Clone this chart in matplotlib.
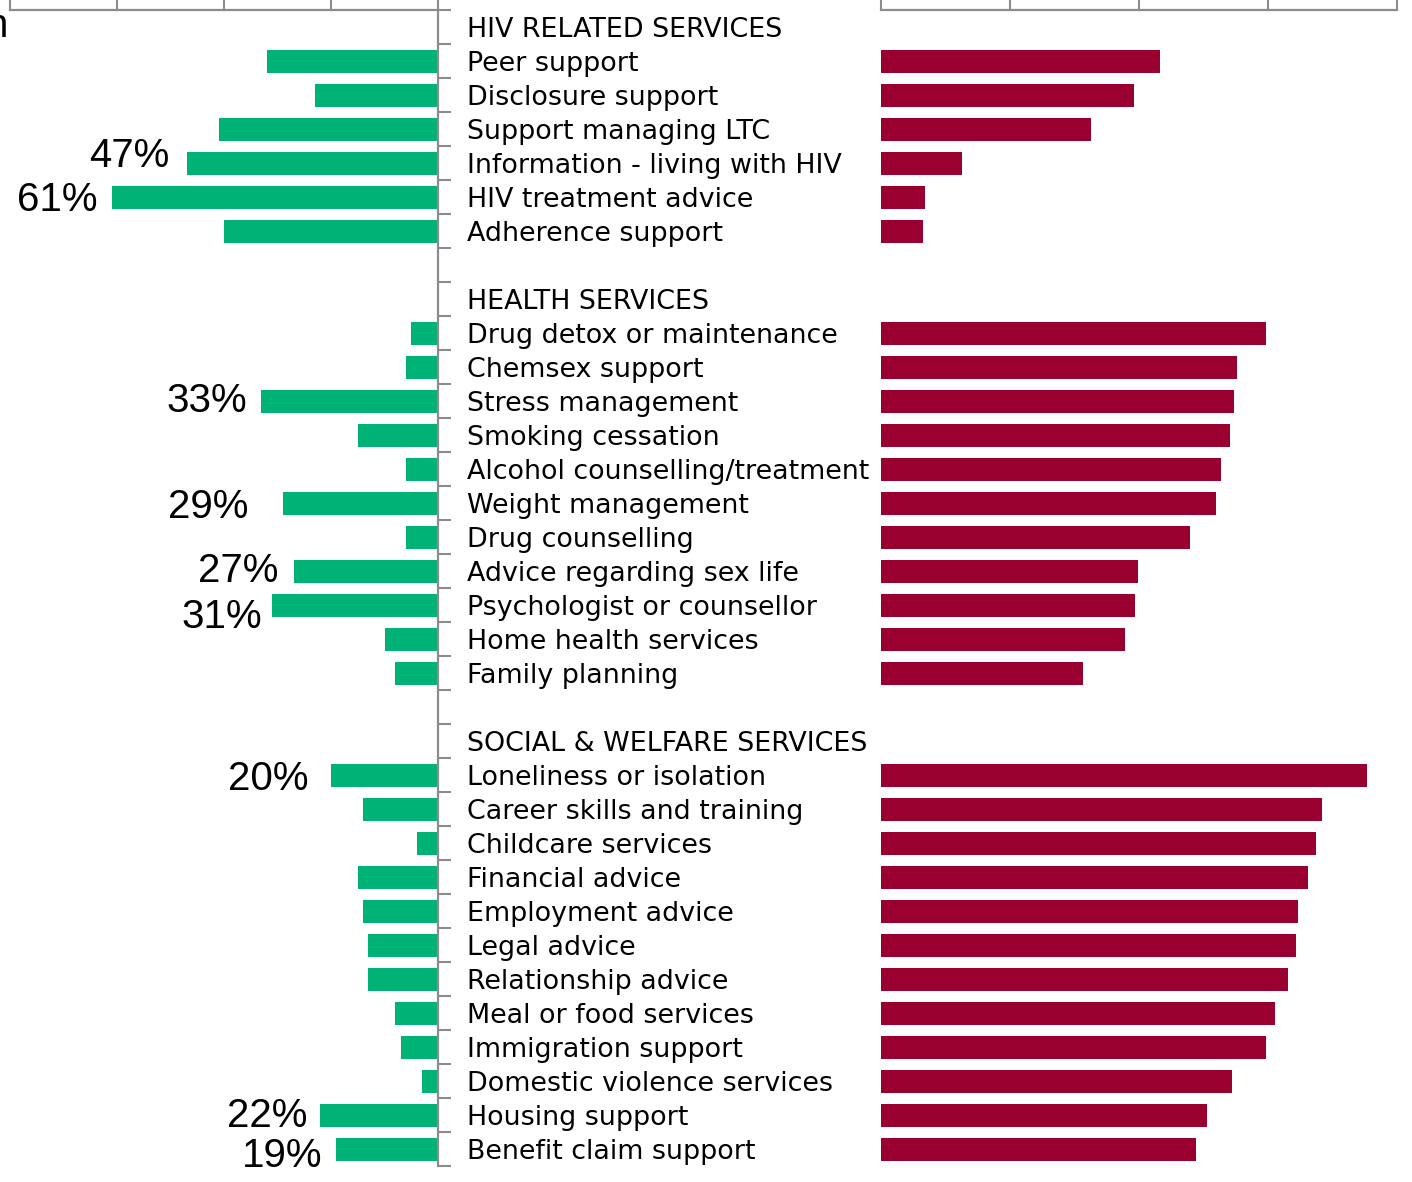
import numpy as np
import matplotlib.pyplot as plt
from matplotlib.ticker import FixedLocator

# section headings
groups = ["HIV RELATED SERVICES", "HEALTH SERVICES", "SOCIAL & WELFARE SERVICES"]

hiv_services = ["Peer support", "Disclosure support", "Support managing LTC",
                "Information - living with HIV", "HIV treatment advice",
                "Adherence support"]
hiv_left = [32, 23, 41, 47, 61, 40]
hiv_right = [43.3, 39.2, 32.6, 12.6, 6.8, 6.5]

health_services = ["Drug detox or maintenance", "Chemsex support",
                   "Stress management", "Smoking cessation",
                   "Alcohol counselling/treatment", "Weight management",
                   "Drug counselling", "Advice regarding sex life",
                   "Psychologist or counsellor", "Home health services",
                   "Family planning"]
health_left = [5, 6, 33, 15, 6, 29, 6, 27, 31, 10, 8]
health_right = [59.7, 55.2, 54.7, 54.1, 52.7, 51.9, 47.9, 39.8, 39.4, 37.8, 31.3]

social_services = ["Loneliness or isolation", "Career skills and training",
                   "Childcare services", "Financial advice",
                   "Employment advice", "Legal advice", "Relationship advice",
                   "Meal or food services", "Immigration support",
                   "Domestic violence services", "Housing support",
                   "Benefit claim support"]
social_left = [20, 14, 4, 15, 14, 13, 13, 8, 7, 3, 22, 19]
social_right = [75.3, 68.4, 67.4, 66.2, 64.7, 64.3, 63.1, 61.1, 59.7, 54.4, 50.5, 48.8]

# services whose left bar carries a percentage
labelled = ["Information - living with HIV", "HIV treatment advice",
            "Stress management", "Weight management",
            "Advice regarding sex life", "Psychologist or counsellor",
            "Loneliness or isolation", "Housing support",
            "Benefit claim support"]

# hand nudges for the percentage labels: (gap to bar, vertical shift) in px
nudge = {
    "Information - living with HIV": (17, -7),
    "HIV treatment advice": (14, 3),
    "Stress management": (14, 0),
    "Weight management": (34, 4),
    "Advice regarding sex life": (15, 0),
    "Psychologist or counsellor": (10, 12),
    "Loneliness or isolation": (22, 4),
    "Housing support": (13, 1),
    "Benefit claim support": (14, 7),
}

GREEN = "#00b276"
RED = "#990030"
GREY = "#8c8c8c"

# lay the rows out: heading, services, blank spacer
row_labels, left_vals, right_vals, names = [], [], [], []
sections = [(groups[0], hiv_services, hiv_left, hiv_right),
            (groups[1], health_services, health_left, health_right),
            (groups[2], social_services, social_left, social_right)]
for i, (head, svc, lv, rv) in enumerate(sections):
    if i > 0:
        row_labels.append("")
        left_vals.append(np.nan)
        right_vals.append(np.nan)
        names.append(None)
    row_labels.append(head)
    left_vals.append(np.nan)
    right_vals.append(np.nan)
    names.append(None)
    for s, l, r in zip(svc, lv, rv):
        row_labels.append(s)
        left_vals.append(l)
        right_vals.append(r)
        names.append(s)

n = len(row_labels)
ypos = np.arange(n)

W, H = 1412, 1182
fig = plt.figure(figsize=(W / 100, H / 100), dpi=100)

top_px, row_px = 10, 34
bottom_px = top_px + row_px * n
ax_l = fig.add_axes([10 / W, 1 - bottom_px / H, 428 / W, (bottom_px - top_px) / H])
ax_r = fig.add_axes([881 / W, 1 - bottom_px / H, 516 / W, (bottom_px - top_px) / H])

bar_h = 0.69
ax_l.barh(ypos + 0.02, left_vals, height=bar_h, color=GREEN)
ax_r.barh(ypos + 0.02, right_vals, height=bar_h, color=RED)

for ax in (ax_l, ax_r):
    ax.set_ylim(n - 0.5, -0.5)
    ax.set_xlim(0, 80)
    ax.xaxis.set_ticks_position("top")
    ax.set_xticks([0, 20, 40, 60, 80])
    ax.tick_params(axis="x", direction="out", length=7, width=1.5,
                   color=GREY, labeltop=False, labelbottom=False)
    for side in ("left", "right", "bottom"):
        ax.spines[side].set_visible(False)
    ax.spines["top"].set_color(GREY)
    ax.spines["top"].set_linewidth(1.6)

# left panel grows leftwards from the centre spine
ax_l.invert_xaxis()
ax_l.spines["right"].set_visible(True)
ax_l.spines["right"].set_color(GREY)
ax_l.spines["right"].set_linewidth(1.6)
ax_l.yaxis.set_ticks_position("right")
ax_l.yaxis.set_major_locator(FixedLocator(np.arange(n + 1) - 0.5))
ax_l.yaxis.set_minor_locator(FixedLocator(ypos))
ax_l.tick_params(axis="y", which="major", direction="out", length=9,
                 width=1.5, color=GREY, labelright=False, labelleft=False)
ax_l.tick_params(axis="y", which="minor", length=0, pad=21,
                 labelright=True, labelleft=False)
ax_l.set_yticklabels(row_labels, minor=True, fontsize=19.4,
                     family="DejaVu Sans", color="black")

ax_r.set_yticks([])

for name, val, y in zip(names, left_vals, ypos):
    if name in labelled:
        gap, dy = nudge[name]
        ax_l.annotate(f"{val:.0f}%", xy=(val, y), xytext=(-gap * 0.72, -dy * 0.72),
                      textcoords="offset points", ha="right", va="center",
                      fontsize=29, family="Liberation Sans", color="black")

# tail of a heading that runs off the left edge
fig.text(8 / W, 1 - 26 / H, "n", ha="right", va="center", fontsize=29,
         family="Liberation Sans", color="black")

fig.savefig("out.png", dpi=100)
